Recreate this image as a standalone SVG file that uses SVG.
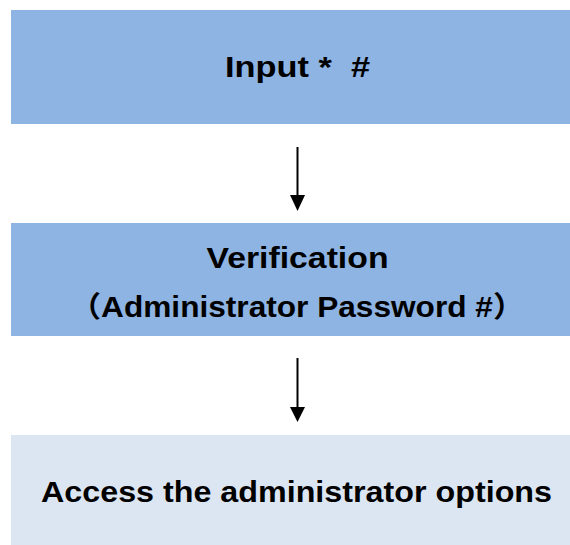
<svg xmlns="http://www.w3.org/2000/svg" width="570" height="545" viewBox="0 0 570 545">
<defs>
<style>
.dark{fill:#8EB4E3;}
.light{fill:#DCE6F2;}
.lbl{font-family:"Liberation Sans","Noto Sans CJK SC",sans-serif;font-weight:bold;font-size:29px;fill:#000;text-anchor:middle;white-space:pre;}
.conn{stroke:#000;stroke-width:2;fill:none;}
</style>
<marker id="ah" viewBox="0 0 15 16" refX="7.5" refY="16" markerWidth="15" markerHeight="16" markerUnits="userSpaceOnUse" orient="auto-start-reverse">
<path d="M0,0 L15,0 L7.5,16 Z" fill="#000"/>
</marker>
</defs>
<rect width="570" height="545" fill="#fff"/>
<g id="node-input">
<rect class="dark" x="11" y="10" width="575" height="114"/>
<text class="lbl" x="297.5" y="77" textLength="145" lengthAdjust="spacingAndGlyphs">Input *  #</text>
</g>
<g id="node-verification">
<rect class="dark" x="11" y="223" width="575" height="113"/>
<text class="lbl" x="297.5" y="268" textLength="182" lengthAdjust="spacingAndGlyphs">Verification</text>
<text class="lbl" x="297" y="317" textLength="455" lengthAdjust="spacingAndGlyphs">（Administrator Password #）</text>
</g>
<g id="node-access">
<rect class="light" x="11" y="435" width="575" height="115"/>
<text class="lbl" x="296.5" y="502" textLength="511" lengthAdjust="spacingAndGlyphs">Access the administrator options</text>
</g>
<g id="connectors">
<line class="conn" x1="297.5" y1="147" x2="297.5" y2="197"/>
<path d="M290,195 L305,195 L297.5,211 Z" fill="#000"/>
<line class="conn" x1="297.5" y1="358" x2="297.5" y2="409"/>
<path d="M290,407 L305,407 L297.5,422 Z" fill="#000"/>
</g>
</svg>
